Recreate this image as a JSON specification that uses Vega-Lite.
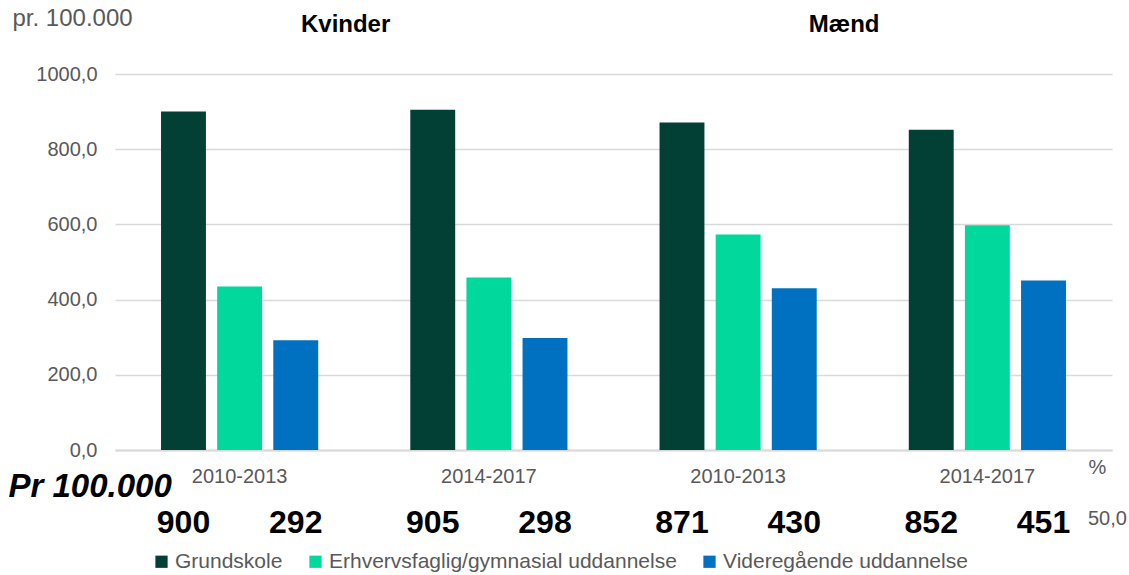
{
  "$schema": "https://vega.github.io/schema/vega-lite/v6.json",
  "width": 997,
  "height": 376,
  "autosize": {"type": "none"},
  "padding": {"left": 115, "top": 74, "right": 17, "bottom": 125},
  "background": "white",
  "config": {
    "view": {"stroke": null},
    "font": "Liberation Sans",
    "axis": {"labelFont": "Liberation Sans", "titleFont": "Liberation Sans"}
  },
  "data": {
    "values": [
      {"g": "Kvinder|2010-2013", "c": "Grundskole", "v": 900},
      {"g": "Kvinder|2010-2013", "c": "Erhvervsfaglig/gymnasial uddannelse", "v": 435},
      {"g": "Kvinder|2010-2013", "c": "Videregående uddannelse", "v": 292},
      {"g": "Kvinder|2014-2017", "c": "Grundskole", "v": 905},
      {"g": "Kvinder|2014-2017", "c": "Erhvervsfaglig/gymnasial uddannelse", "v": 459},
      {"g": "Kvinder|2014-2017", "c": "Videregående uddannelse", "v": 298},
      {"g": "Mænd|2010-2013", "c": "Grundskole", "v": 871},
      {"g": "Mænd|2010-2013", "c": "Erhvervsfaglig/gymnasial uddannelse", "v": 573},
      {"g": "Mænd|2010-2013", "c": "Videregående uddannelse", "v": 430},
      {"g": "Mænd|2014-2017", "c": "Grundskole", "v": 852},
      {"g": "Mænd|2014-2017", "c": "Erhvervsfaglig/gymnasial uddannelse", "v": 598},
      {"g": "Mænd|2014-2017", "c": "Videregående uddannelse", "v": 451}
    ]
  },
  "encoding": {
    "x": {
      "field": "g",
      "type": "nominal",
      "scale": {"paddingInner": 0, "paddingOuter": 0},
      "axis": {
        "title": "Pr 100.000",
        "titleFontSize": 33,
        "titleFontWeight": "bold",
        "titleFontStyle": "italic",
        "titleColor": "#000000",
        "titleAnchor": "start",
        "titleAlign": "left",
        "titleBaseline": "middle",
        "titleX": -107,
        "titleY": 36,
        "labelExpr": "split(datum.label, '|')[1]",
        "labelAngle": 0,
        "labelFontSize": 20,
        "labelColor": "#595959",
        "labelPadding": 16,
        "ticks": false,
        "tickSize": 0,
        "domainColor": "#d9d9d9",
        "domainWidth": 2
      }
    }
  },
  "layer": [
    {
      "mark": {"type": "bar"},
      "encoding": {
        "xOffset": {
          "field": "c",
          "type": "nominal",
          "sort": ["Grundskole", "Erhvervsfaglig/gymnasial uddannelse", "Videregående uddannelse"],
          "scale": {"paddingInner": 0.2, "paddingOuter": 0.82}
        },
        "y": {
          "field": "v",
          "type": "quantitative",
          "scale": {"domain": [0, 1000], "nice": false},
          "axis": {
            "values": [0, 200, 400, 600, 800, 1000],
            "labelExpr": "replace(format(datum.value, '.1f'), '.', ',')",
            "labelFontSize": 20,
            "labelColor": "#595959",
            "labelPadding": 18,
            "ticks": false,
            "tickSize": 0,
            "domain": false,
            "gridColor": "#d9d9d9",
            "gridWidth": 1.5,
            "title": "pr. 100.000",
            "titleAngle": 0,
            "titleFontSize": 24,
            "titleFontWeight": "normal",
            "titleColor": "#595959",
            "titleAlign": "left",
            "titleBaseline": "middle",
            "titleX": -103,
            "titleY": -56
          }
        },
        "color": {
          "field": "c",
          "type": "nominal",
          "sort": ["Grundskole", "Erhvervsfaglig/gymnasial uddannelse", "Videregående uddannelse"],
          "scale": {
            "domain": ["Grundskole", "Erhvervsfaglig/gymnasial uddannelse", "Videregående uddannelse"],
            "range": ["#024036", "#00d89c", "#0070c0"]
          },
          "legend": {
            "title": null,
            "orient": "none",
            "direction": "horizontal",
            "legendX": 36,
            "legendY": 477,
            "symbolType": "square",
            "symbolSize": 150,
            "symbolStrokeWidth": 0,
            "labelFontSize": 21,
            "labelLimit": 0,
            "labelColor": "#595959",
            "labelOffset": 3,
            "columnPadding": 22
          }
        }
      }
    },
    {
      "transform": [{"filter": "datum.c !== 'Erhvervsfaglig/gymnasial uddannelse'"}],
      "mark": {"type": "text", "fontSize": 32, "fontWeight": "bold", "color": "#000000", "baseline": "middle", "align": "center"},
      "encoding": {
        "xOffset": {
          "field": "c",
          "type": "nominal",
          "sort": ["Grundskole", "Erhvervsfaglig/gymnasial uddannelse", "Videregående uddannelse"],
          "scale": {"paddingInner": 0.2, "paddingOuter": 0.82, "domain": ["Grundskole", "Erhvervsfaglig/gymnasial uddannelse", "Videregående uddannelse"]}
        },
        "y": {"datum": -194, "type": "quantitative"},
        "text": {"field": "v", "type": "quantitative", "format": "d"}
      }
    },
    {
      "data": {"values": [{"g": "Kvinder|2010-2013", "t": "Kvinder"}, {"g": "Mænd|2010-2013", "t": "Mænd"}]},
      "mark": {"type": "text", "fontSize": 24, "fontWeight": "bold", "color": "#000000", "baseline": "middle", "align": "center", "dx": 106},
      "encoding": {
        "y": {"datum": 1130, "type": "quantitative"},
        "text": {"field": "t", "type": "nominal"}
      }
    },
    {
      "data": {"values": [{"g": "Mænd|2014-2017", "t": "%"}]},
      "mark": {"type": "text", "fontSize": 20, "color": "#595959", "baseline": "middle", "align": "center", "dx": 110},
      "encoding": {
        "y": {"datum": -48, "type": "quantitative"},
        "text": {"field": "t", "type": "nominal"}
      }
    },
    {
      "data": {"values": [{"g": "Mænd|2014-2017", "t": "50,0"}]},
      "mark": {"type": "text", "fontSize": 20, "color": "#595959", "baseline": "middle", "align": "center", "dx": 120},
      "encoding": {
        "y": {"datum": -183, "type": "quantitative"},
        "text": {"field": "t", "type": "nominal"}
      }
    }
  ]
}
